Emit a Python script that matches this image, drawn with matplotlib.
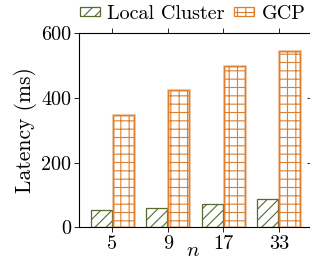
import matplotlib
matplotlib.use("Agg")
import matplotlib.pyplot as plt
import matplotlib.lines as mlines
import numpy as np

categories = ["5", "9", "17", "33"]
local_cluster = [52, 59, 72, 89]
gcp = [348, 424, 500, 545]
series_names = ["Local Cluster", "GCP"]
yticks = [0, 200, 400, 600]

plt.rcParams['font.family'] = ['cmr10', 'DejaVu Serif']
plt.rcParams['mathtext.fontset'] = 'cm'
plt.rcParams['axes.unicode_minus'] = False
plt.rcParams['hatch.linewidth'] = 0.8

fig = plt.figure(figsize=(3.1, 2.6), dpi=100)
x0, x1 = 79, 312
ax = fig.add_axes([x0/310, 1-227.3/260, (x1-x0)/310, (227.3-33.3)/260])

x = np.arange(len(categories))
w = 0.38
green = '#556b2f'
orange = '#dd7f2e'

ax.bar(x - 0.2, local_cluster, w, color='white', edgecolor=green, hatch='///', linewidth=0.9, label=series_names[0])
ax.bar(x + 0.2, gcp, w, color='white', edgecolor=orange, hatch='++', linewidth=0.9, label=series_names[1])
ax.bar(x + 0.2, gcp, w, fill=False, edgecolor=orange, alpha=0.35, linewidth=2.2)

pxu = 55.5
ax.set_xlim(-0.6, -0.6 + (x1-x0)/pxu)
ax.set_ylim(0, 600)
ax.set_xticks(x)
ax.set_xticklabels(categories)
ax.set_yticks(yticks)
ax.tick_params(axis='both', labelsize=14.5, length=3.5, width=0.6, pad=2)
ax.tick_params(top=True, right=True)
for t in ax.yaxis.get_major_ticks():
    t.tick2line.set_marker(mlines.TICKLEFT)
ax.set_ylabel('Latency (ms)', fontsize=15.5)
ax.yaxis.set_label_coords(-(79-25)/(x1-x0), 0.5)
ax.yaxis.label.set_va('center')
ax.set_xlabel('$n$', fontsize=15)
ax.xaxis.set_label_coords((193-x0)/(x1-x0), -(251-227.3)/194)
ax.xaxis.label.set_va('center')
for s in ax.spines.values():
    s.set_linewidth(0.8)
ax.spines['right'].set_visible(False)

fig.legend(*ax.get_legend_handles_labels(), loc='center', bbox_to_anchor=(192.5/310, 1-14/260), ncol=2, frameon=False,
           fontsize=14.5, handlelength=1.0, handleheight=0.3, columnspacing=0.5,
           handletextpad=0.35, borderaxespad=0.0, borderpad=0.0)

fig.savefig('out.png', dpi=100)
